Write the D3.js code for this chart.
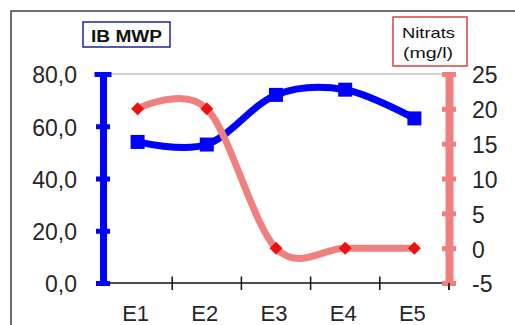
<!DOCTYPE html>
<html>
<head>
<meta charset="utf-8">
<script src="https://cdn.jsdelivr.net/npm/d3@7/dist/d3.min.js"></script>
<style>
  html, body { margin: 0; padding: 0; background: #fff; }
  svg { display: block; }
  text { font-family: "Liberation Sans", Arial, sans-serif; }
</style>
</head>
<body>
<svg id="chart" width="515" height="325"></svg>
<script>
// Sampling stations
const categories = ["E1", "E2", "E3", "E4", "E5"];
// IBMWP biotic index (left axis)
const ibmwp = [54, 53, 72, 74, 63];
// Nitrate concentration in mg/l (right axis)
const nitrats = [20, 20, 0, 0, 0];
// Axis ticks
const leftTicks = [0, 20, 40, 60, 80];
const rightTicks = [-5, 0, 5, 10, 15, 20, 25];

const svg = d3.select("#chart");

const plot = { left: 103, right: 449, top: 74, bottom: 283 };

const locale = d3.formatLocale({
  decimal: ",", thousands: ".", grouping: [3], currency: ["", " €"], minus: "-"
});
const fmtLeft = locale.format(".1f");
const fmtRight = locale.format("d");

const x = d3.scaleBand().domain(categories).range([plot.left, plot.right]).padding(0);
const yL = d3.scaleLinear().domain([0, 80]).range([plot.bottom, plot.top]);
const yR = d3.scaleLinear().domain([-5, 25]).range([plot.bottom, plot.top]);
const cx = d => x(d) + x.bandwidth() / 2;

const blue = "#0000ff";
const pink = "#f08080";
const red = "#ee1111";
const labelColor = "#262626";

// Chart frame
svg.append("rect")
  .attr("x", 11).attr("y", 11)
  .attr("width", 620).attr("height", 400)
  .attr("fill", "#fff")
  .attr("stroke", "#404040").attr("stroke-width", 1.5);

// Top gridline
svg.append("line")
  .attr("x1", plot.left).attr("x2", plot.right)
  .attr("y1", yL(80)).attr("y2", yL(80))
  .attr("stroke", "#a8a8a8").attr("stroke-width", 1);

// Category axis
const gx = svg.append("g")
  .attr("transform", `translate(0,${plot.bottom})`)
  .call(d3.axisBottom(x).tickSize(0).tickPadding(22));
gx.select(".domain").remove();
gx.selectAll(".tick text")
  .attr("font-size", 22).attr("fill", labelColor)
  .attr("font-family", null)
  .attr("dx", -2);
svg.append("line")
  .attr("x1", plot.left).attr("x2", plot.right)
  .attr("y1", plot.bottom).attr("y2", plot.bottom)
  .attr("stroke", "#111").attr("stroke-width", 1.5);
const bounds = categories.map(c => x(c)).slice(1).concat([x.range()[1]]);
svg.selectAll(".xtick").data(bounds).join("line")
  .attr("class", "xtick")
  .attr("x1", d => d).attr("x2", d => d)
  .attr("y1", plot.bottom - 6.5).attr("y2", plot.bottom + 7)
  .attr("stroke", "#111").attr("stroke-width", 1.5);

// Left axis (IBMWP)
const gl = svg.append("g")
  .attr("transform", `translate(${plot.left},0)`)
  .call(d3.axisLeft(yL).tickValues(leftTicks).tickFormat(fmtLeft).tickSize(0).tickPadding(26));
gl.select(".domain").attr("stroke", blue).attr("stroke-width", 7);
gl.selectAll(".tick text")
  .attr("font-size", 23).attr("fill", labelColor).attr("font-family", null)
  .attr("dy", "0.39em");
gl.selectAll(".tick").append("line")
  .attr("x1", d => d === 80 ? -8.5 : -7).attr("x2", d => d === 80 ? 8.5 : 7)
  .attr("stroke", blue).attr("stroke-width", 5);

// Right axis (nitrates)
const gr = svg.append("g")
  .attr("transform", `translate(${plot.right},0)`)
  .call(d3.axisRight(yR).tickValues(rightTicks).tickFormat(fmtRight).tickSize(0).tickPadding(23));
gr.select(".domain").attr("stroke", pink).attr("stroke-width", 8);
gr.selectAll(".tick text")
  .attr("font-size", 23).attr("fill", labelColor).attr("font-family", null)
  .attr("dy", "0.39em");
gr.selectAll(".tick").append("line")
  .attr("x1", -7).attr("x2", 7)
  .attr("stroke", pink).attr("stroke-width", 5);
// category tick at the right end sits over the nitrate axis
svg.append("line")
  .attr("x1", plot.right).attr("x2", plot.right)
  .attr("y1", plot.bottom).attr("y2", plot.bottom + 7)
  .attr("stroke", "#111").attr("stroke-width", 1.5);

// Smoothed series lines
const lineL = d3.line()
  .x((d, i) => cx(categories[i])).y(d => yL(d))
  .curve(d3.curveCardinal.tension(0));
const lineR = d3.line()
  .x((d, i) => cx(categories[i])).y(d => yR(d))
  .curve(d3.curveCardinal.tension(0));

svg.append("path").datum(ibmwp)
  .attr("d", lineL).attr("fill", "none")
  .attr("stroke", blue).attr("stroke-width", 7).attr("stroke-linejoin", "round");
svg.selectAll(".sq").data(ibmwp).join("rect")
  .attr("class", "sq")
  .attr("x", (d, i) => cx(categories[i]) - 7).attr("y", d => yL(d) - 7)
  .attr("width", 14).attr("height", 14)
  .attr("fill", blue);

svg.append("path").datum(nitrats)
  .attr("d", lineR).attr("fill", "none")
  .attr("stroke", pink).attr("stroke-width", 7).attr("stroke-linejoin", "round");
const dia = 6.5;
svg.selectAll(".dm").data(nitrats).join("path")
  .attr("class", "dm")
  .attr("transform", (d, i) => `translate(${cx(categories[i])},${yR(d)})`)
  .attr("d", `M0,${-dia}L${dia},0L0,${dia}L${-dia},0Z`)
  .attr("fill", red);

// Axis titles
svg.append("rect")
  .attr("x", 83).attr("y", 22).attr("width", 87).attr("height", 25)
  .attr("fill", "#fff").attr("stroke", "#22229a").attr("stroke-width", 1.5);
svg.append("text")
  .attr("x", 91).attr("y", 41.5)
  .attr("font-size", 16).attr("font-weight", "bold").attr("fill", "#111")
  .attr("textLength", 71).attr("lengthAdjust", "spacingAndGlyphs")
  .text("IB MWP");

svg.append("rect")
  .attr("x", 393).attr("y", 17).attr("width", 74).attr("height", 49)
  .attr("fill", "#fff").attr("stroke", "#d04545").attr("stroke-width", 1.5);
svg.append("text")
  .attr("x", 402).attr("y", 38)
  .attr("font-size", 15).attr("fill", "#111")
  .attr("textLength", 53).attr("lengthAdjust", "spacingAndGlyphs")
  .text("Nitrats");
svg.append("text")
  .attr("x", 403).attr("y", 58)
  .attr("font-size", 15).attr("fill", "#111")
  .attr("textLength", 50).attr("lengthAdjust", "spacingAndGlyphs")
  .text("(mg/l)");
</script>
</body>
</html>
